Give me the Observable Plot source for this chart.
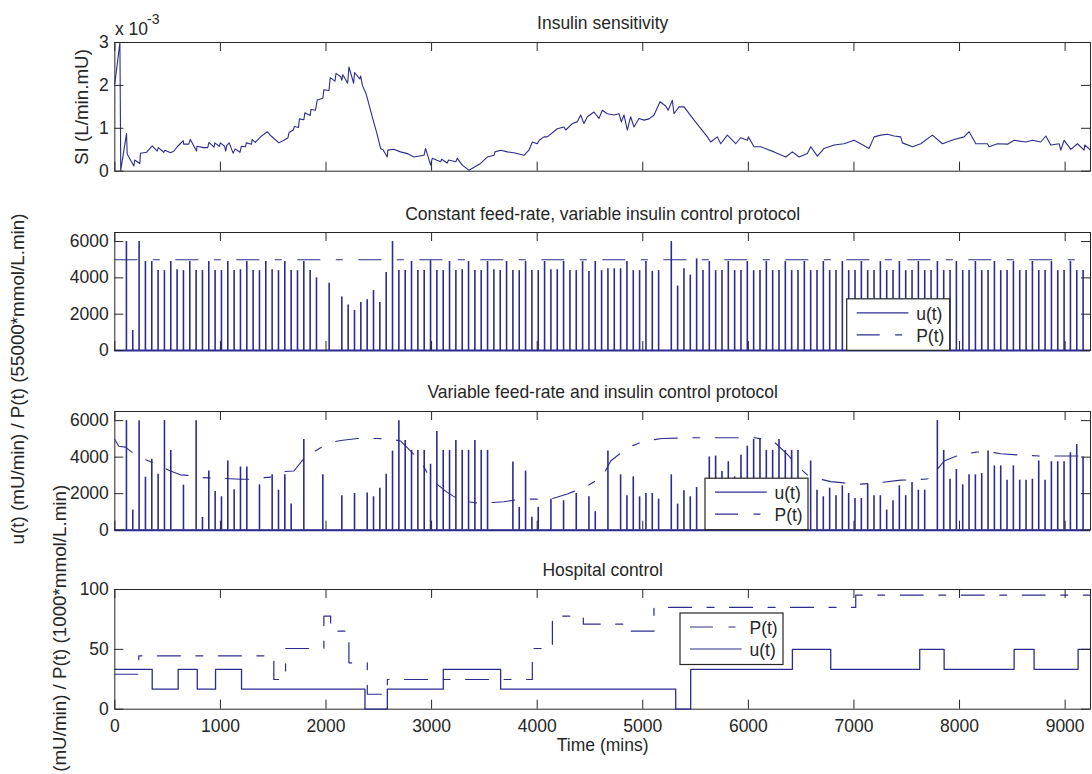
<!DOCTYPE html>
<html>
<head>
<meta charset="utf-8">
<script src="https://cdn.jsdelivr.net/npm/d3@7"></script>
<script src="https://cdn.jsdelivr.net/npm/@observablehq/plot@0.6"></script>
<style>
  body { margin: 0; background: #fff; }
  #fig { position: relative; width: 1092px; height: 774px; overflow: hidden; background: #fff; }
</style>
</head>
<body>
<div id="fig"></div>
<script>
// ---------- data ----------
// Time axis (minutes)
const tMax = 9240;
const xTicks = [0, 1000, 2000, 3000, 4000, 5000, 6000, 7000, 8000, 9000];

// Insulin sensitivity SI (x 10^-3 L/min.mU)
const siTime = [0,48,56,111,117,180,188,237,242,300,354,401,412,450,464,475,528,560,591,648,652,700,715,774,778,840,880,891,940,947,990,998,1040,1050,1060,1083,1120,1140,1185,1198,1238,1245,1295,1300,1330,1380,1444,1480,1554,1600,1640,1650,1690,1700,1740,1748,1790,1800,1850,1858,1900,1917,1970,1980,2028,2040,2085,2095,2140,2150,2160,2205,2217,2262,2270,2320,2328,2345,2380,2440,2480,2517,2540,2580,2586,2643,2706,2770,2833,2928,2943,2991,3006,3085,3095,3149,3160,3230,3243,3291,3354,3464,3527,3591,3600,3654,3717,3780,3875,3922,3954,4001,4020,4064,4096,4190,4254,4270,4333,4380,4412,4443,4475,4538,4585,4617,4664,4728,4775,4797,4822,4854,4885,4917,4964,5012,5060,5107,5163,5217,5240,5280,5296,5343,5391,5486,5612,5643,5706,5738,5801,5880,5927,5991,6000,6054,6117,6243,6354,6417,6480,6559,6591,6654,6717,6812,6906,7001,7064,7143,7191,7254,7317,7380,7443,7459,7554,7633,7743,7838,7949,8043,8091,8154,8264,8280,8359,8454,8517,8628,8691,8770,8817,8864,8943,8959,8991,9054,9117,9180,9186,9240];
const siValue = [2.04,3.0,0.02,0.88,0.40,0.12,0.26,0.18,0.42,0.44,0.59,0.47,0.55,0.47,0.44,0.49,0.43,0.47,0.57,0.71,0.63,0.63,0.74,0.47,0.58,0.55,0.55,0.67,0.56,0.66,0.58,0.66,0.58,0.47,0.60,0.66,0.42,0.52,0.44,0.58,0.57,0.66,0.63,0.74,0.67,0.80,0.92,0.82,0.66,0.72,0.78,0.90,0.96,1.04,1.02,1.22,1.20,1.36,1.30,1.44,1.42,1.66,1.70,1.90,1.88,2.18,2.10,2.28,2.20,2.12,2.25,2.05,2.43,2.05,2.30,2.15,2.22,2.00,1.80,1.25,0.90,0.53,0.50,0.33,0.49,0.51,0.45,0.41,0.33,0.37,0.53,0.14,0.30,0.22,0.28,0.19,0.26,0.22,0.30,0.14,0.02,0.18,0.33,0.37,0.45,0.49,0.45,0.43,0.37,0.49,0.68,0.64,0.72,0.80,0.80,0.99,1.03,0.96,1.11,1.15,1.31,1.11,1.27,1.38,1.23,1.42,1.34,1.31,1.34,1.15,1.31,0.96,1.27,1.03,1.23,1.19,1.22,1.31,1.62,1.52,1.42,1.65,1.34,1.50,1.50,1.19,0.80,0.68,0.80,0.64,0.84,0.64,0.78,0.72,0.80,0.57,0.57,0.45,0.33,0.45,0.33,0.41,0.57,0.35,0.53,0.61,0.64,0.72,0.64,0.53,0.80,0.84,0.86,0.82,0.80,0.66,0.57,0.64,0.84,0.64,0.74,0.80,0.92,0.64,0.64,0.57,0.64,0.63,0.72,0.68,0.72,0.68,0.82,0.61,0.64,0.49,0.72,0.51,0.64,0.49,0.61,0.49];
const siTicks = [0, 1, 2, 3];

// Insulin boluses u(t): one slot per hour starting at 110 min (0 = no bolus)
const firstDose = 110;
const doseInterval = 60;
const uTicks = [0, 2000, 4000, 6000];

// Constant feed-rate protocol
const constU = [
  6000,1100,6000,4900,4900,4400,4400,4900,4450,4400,
  4900,4400,4400,4900,4400,4400,4900,4400,4450,4900,
  4400,4400,4900,4450,4400,4900,4400,4400,4900,4400,
  4000,0,3700,0,2950,2500,2200,2650,2800,3300,
  2650,4300,6000,4400,4400,4900,4400,4400,4950,4400,
  4400,4900,4400,4450,4900,4400,4400,4900,4450,4400,
  4900,4400,4400,4900,4400,4400,4900,4450,4450,4900,
  4400,4400,4900,4350,4900,4400,4500,4500,4500,4900,
  4400,4400,4900,4350,4400,0,6000,3550,4500,4150,
  5050,4400,4900,4400,4400,4900,4400,4400,4900,4400,
  4400,4900,4400,4400,4900,4400,4400,4900,4400,4400,
  4900,4400,4400,4900,4400,4400,4900,4400,4400,4900,
  4400,4400,4900,4400,4400,4900,4400,4400,4900,4400,
  4400,4900,4400,4400,4900,4400,4400,4900,4400,4400,
  4900,4400,4400,4900,4400,4400,4900,4400,4400,4900,
  4400,4400
];
const constFeed = 5000;

// Variable feed-rate and insulin protocol
const varU = [
  6000,1100,6000,2900,3880,3060,6000,4370,0,2470,
  0,6000,700,3240,2120,1830,3790,2210,3460,3460,
  0,2480,0,3030,2190,3030,1430,0,4970,0,
  0,3030,0,0,1890,0,2010,0,2030,1830,
  2300,3060,4330,6000,4910,4370,4370,4370,3610,5400,
  4370,4370,4910,4370,4370,4910,4370,4370,0,0,
  0,3730,1250,3240,710,1250,0,1700,0,1610,
  0,2010,0,1830,1015,0,4330,0,3030,1890,
  2920,1830,2010,2010,1700,0,3030,1430,2160,1830,
  2340,0,4010,4060,3210,3750,2920,4110,4600,4970,
  4970,4370,4370,4970,4370,4370,4370,0,3790,2190,
  1830,2300,1890,2430,2010,1740,1740,2520,1890,1890,
  1105,1610,2430,1890,2610,2190,2190,0,6000,4370,
  2790,3320,2480,3030,3030,3100,4330,3520,3520,2740,
  3520,2740,2740,2790,3790,2740,3750,3750,3750,4240,
  4690,4010
];
const varFeedTime = [0,38,101,148,259,322,458,527,622,780,828,986,1191,1317,1412,1507,1601,1696,1791,1870,1949,2076,2139,2297,2486,2612,2707,2786,2896,2991,3149,3275,3464,3685,3843,4127,4286,4475,4617,4696,4854,5012,5186,5425,5833,6053,6180,6243,6370,6480,6559,6685,6780,6906,7064,7254,7443,7664,7743,7791,7854,8012,8170,8280,8391,8580,8770,8960,9240];
const varFeed = [4970,4600,4550,4330,3930,3790,3430,3240,3030,2970,2880,2850,2790,2790,2880,2920,3210,3240,3930,4240,4510,4840,4910,5020,5020,5000,4880,4420,3790,2790,2070,1610,1470,1560,1700,1700,1980,2430,2920,3790,4510,4880,5020,5060,5060,5060,4970,4840,4150,3430,3030,2790,2660,2590,2520,2610,2740,2790,2850,3340,3790,4150,4280,4290,4190,4110,4060,4060,4060];

// Hospital control (step changes)
const hospUTime = [0,354,600,781,954,1200,2369,2581,3111,3654,5312,5454,6417,6780,7623,7854,8517,8706,9123,9240];
const hospU = [33.3,16.7,33.3,16.7,33.3,16.7,0,16.7,33.3,16.7,0,33.3,50,33.3,50,33.3,50,33.3,50,50];
const hospPTime = [0,227,1506,1617,1980,2044,2217,2391,2581,3954,4144,4437,4860,5106,7017,9240];
const hospP = [29.2,44.6,24.8,50.7,77.7,65.2,38.7,12.5,24.8,50.7,77.7,71.0,65.2,85.0,95.3,95.3];
const hospTicks = [0, 50, 100];

// ---------- styling ----------
const FONT = '"Liberation Sans", Arial, Helvetica, sans-serif';
const FS = 17.5;
const LABEL_FS = 18.8;
const ink = "#262626";
const navy = "#2c2c90";
const pDash = "23,15.5,7,15.5";
const plain = d => String(d);

const fig = document.getElementById("fig");
const zip = (ts, vs) => ts.map((t, i) => ({t, v: vs[i]}));
const doses = (us) => us.map((u, i) => ({t: firstDose + doseInterval * i, v: u})).filter(d => d.v > 0);

// One MATLAB-style subplot: boxed frame, inward ticks on all four sides
function panel({top, bottom, yDomain, yTicks, title, marks, xAxis = false, extra = []}) {
  const left = 114.3, right = 1090;
  const mt = 45, mb = xAxis ? 60 : 12;
  const h = bottom - top, w = right - left;
  const svg = Plot.plot({
    width: 1092,
    height: h + mt + mb,
    marginLeft: left, marginRight: 1092 - right, marginTop: mt, marginBottom: mb,
    style: {background: "transparent", overflow: "visible", fontFamily: FONT, fontSize: FS + "px", color: ink},
    x: {domain: [0, tMax], ticks: xTicks, tickFormat: plain, tickSize: 0, tickPadding: 10, axis: xAxis ? "bottom" : null, label: null},
    y: {domain: yDomain, ticks: yTicks, tickFormat: plain, tickSize: 0, tickPadding: 6, label: null},
    marks: [
      Plot.frame({stroke: ink}),
      ...marks,
      Plot.tickX(xTicks, {x: d => d, insetTop: h - 9, stroke: ink}),
      Plot.tickX(xTicks, {x: d => d, insetBottom: h - 9, stroke: ink}),
      Plot.tickY(yTicks, {y: d => d, insetRight: w - 9, stroke: ink}),
      Plot.tickY(yTicks, {y: d => d, insetLeft: w - 9, stroke: ink}),
      Plot.text([title], {text: d => d, frameAnchor: "top", dy: -13, lineAnchor: "bottom", fill: ink}),
      ...extra
    ]
  });
  svg.style.position = "absolute";
  svg.style.left = "0px";
  svg.style.top = (top - mt) + "px";
  fig.appendChild(svg);
}

// Insulin sensitivity
panel({
  top: 42.3, bottom: 171, yDomain: [0, 3], yTicks: siTicks,
  title: "Insulin sensitivity",
  marks: [
    Plot.line(zip(siTime, siValue), {x: "t", y: "v", stroke: navy, strokeWidth: 1.1})
  ]
});

// Constant feed-rate
panel({
  top: 232.3, bottom: 350.3, yDomain: [0, 6500], yTicks: uTicks,
  title: "Constant feed-rate, variable insulin control protocol",
  marks: [
    Plot.ruleY([constFeed], {stroke: navy, strokeWidth: 1.1, strokeDasharray: pDash}),
    Plot.ruleX(doses(constU), {x: "t", y1: 0, y2: "v", stroke: navy, strokeWidth: 1.6}),
    Plot.ruleY([0], {stroke: navy, strokeWidth: 2})
  ]
});

// Variable feed-rate
panel({
  top: 411, bottom: 529.7, yDomain: [0, 6500], yTicks: uTicks,
  title: "Variable feed-rate and insulin control protocol",
  marks: [
    Plot.line(zip(varFeedTime, varFeed), {x: "t", y: "v", stroke: navy, strokeWidth: 1.1, strokeDasharray: pDash}),
    Plot.ruleX(doses(varU), {x: "t", y1: 0, y2: "v", stroke: navy, strokeWidth: 1.6}),
    Plot.ruleY([0], {stroke: navy, strokeWidth: 2})
  ]
});

// Hospital control
panel({
  top: 589.3, bottom: 709, yDomain: [0, 100], yTicks: hospTicks,
  title: "Hospital control", xAxis: true,
  marks: [
    Plot.line(zip(hospPTime, hospP), {x: "t", y: "v", curve: "step-after", stroke: navy, strokeWidth: 1.2, strokeDasharray: pDash}),
    Plot.line(zip(hospUTime, hospU), {x: "t", y: "v", curve: "step-after", stroke: navy, strokeWidth: 1.3})
  ],
  extra: [
    Plot.text(["Time (mins)"], {text: d => d, frameAnchor: "bottom", dy: 42, lineAnchor: "bottom", fill: ink})
  ]
});

// ---------- annotations: axis labels, exponent, legends ----------
const notes = d3.select(fig).append("svg")
  .attr("width", 1092).attr("height", 774)
  .style("position", "absolute").style("left", "0px").style("top", "0px")
  .style("font-family", FONT).style("font-size", FS + "px")
  .attr("fill", ink);

notes.append("text").attr("x", 115).attr("y", 34.5).text("x 10");
notes.append("text").attr("x", 147).attr("y", 23.5).style("font-size", "14px").text("-3");

function vlabel(x, y, s) {
  notes.append("text")
    .attr("transform", `translate(${x},${y}) rotate(-90)`)
    .attr("text-anchor", "middle").attr("dy", "0.3em")
    .style("font-size", LABEL_FS + "px").text(s);
}
vlabel(82, 107, "SI (L/min.mU)");
vlabel(18, 379, "u(t) (mU/min) / P(t) (55000*mmol/L.min)");
vlabel(60, 645, "u(t) (mU/min) / P(t) (1000*mmol/L.min)");

function legend(x, y, entries) {
  const g = notes.append("g").attr("transform", `translate(${x},${y})`);
  g.append("rect").attr("x", 0).attr("y", 0).attr("width", 103).attr("height", 51.5)
    .attr("fill", "#fff").attr("stroke", ink).attr("stroke-width", 1.2);
  entries.forEach((e, k) => {
    const ly = 14 + 22 * k;
    g.append("line").attr("x1", 10).attr("x2", 61.7).attr("y1", ly).attr("y2", ly)
      .attr("stroke", navy).attr("stroke-width", 1.2)
      .attr("stroke-dasharray", e.dash ? pDash : null);
    g.append("text").attr("x", 69.5).attr("y", ly + 6.8).text(e.label);
  });
}
legend(846.7, 298.8, [{label: "u(t)"}, {label: "P(t)", dash: true}]);
legend(705, 478.2, [{label: "u(t)"}, {label: "P(t)", dash: true}]);
legend(680, 613, [{label: "P(t)", dash: true}, {label: "u(t)"}]);
</script>
</body>
</html>
